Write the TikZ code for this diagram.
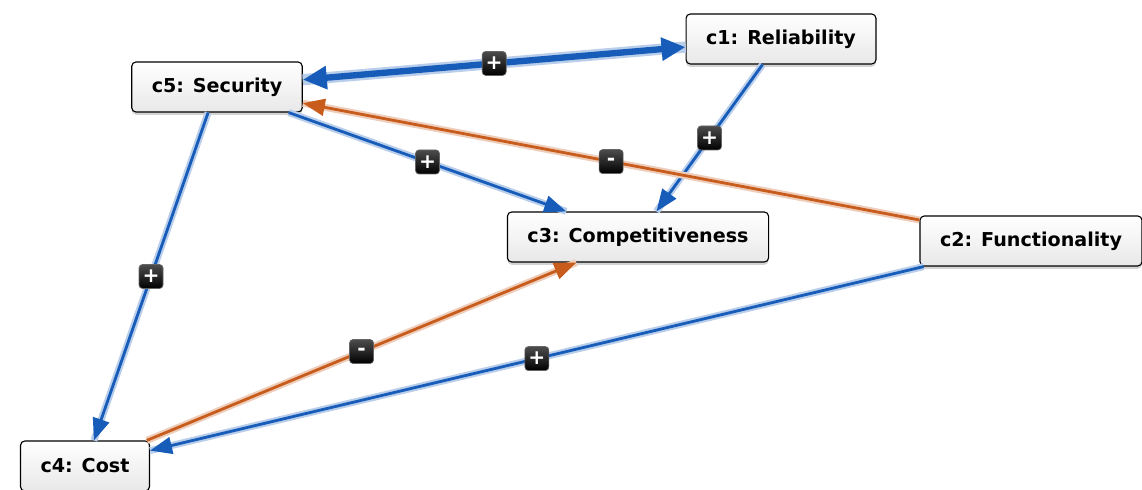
\documentclass[tikz,border=0pt]{standalone}
\usepackage{fontspec}
\setmainfont{DejaVu Sans}
\usetikzlibrary{arrows.meta}
\usetikzlibrary{shadows}

\definecolor{posblue}{RGB}{22,92,184}
\definecolor{negorange}{RGB}{200,92,28}

\tikzset{
    concept/.style={draw = black, line width = 0.8pt, rounded corners = 3pt,
        top color = white, bottom color = gray!18,
        drop shadow = {shadow xshift = 0pt, shadow yshift = -2pt, opacity = 0.35},
        font = \bfseries\fontsize{13.6}{16}\selectfont,
        inner xsep = 0.5cm, minimum height = 1.25cm},
    sign/.style={draw = black!60, line width = 0.5pt, top color = black!70,
        bottom color = black, text = white, rounded corners = 2.5pt,
        minimum size = 0.6cm, inner sep = 0pt, font = \bfseries\Large},
    tip/.style={-{Triangle[length = 0.55cm, width = 0.42cm]}},
    posedge/.style={draw = posblue, line width = 2pt, tip,
        preaction = {draw = posblue!30, line width = 5pt, -}},
    negedge/.style={draw = negorange, line width = 2pt, tip,
        preaction = {draw = negorange!30, line width = 5pt, -}}
}

\begin{document}
\begin{tikzpicture}[x = 0.025cm, y = -0.025cm]
        \useasboundingbox (0, 0) rectangle (1142, 490);

        \node[concept] (c1) at (781, 39) {c1: Reliability};
        \node[concept] (c5) at (217, 87) {c5: Security};
        \node[concept] (c3) at (638, 237) {c3: Competitiveness};
        \node[concept] (c2) at (1031, 241) {c2: Functionality};
        \node[concept] (c4) at (85, 466) {c4: Cost};

        \draw[posedge, line width = 4.5pt,
            {Triangle[length = 0.6cm, width = 0.55cm]}-{Triangle[length = 0.6cm, width = 0.55cm]},
            preaction = {draw = posblue!30, line width = 8pt, -}]
            (c5) -- (c1) node[sign, midway] (s51) {+};
        \draw[posedge] (c1) -- (c3) node[sign, midway] (s13) {+};
        \draw[posedge] (c5) -- (c3) node[sign, midway] (s53) {+};
        \draw[negedge] (c2) -- (c5) node[sign, midway] (s25) {-};
        \draw[posedge] (c5) -- (c4) node[sign, midway] (s54) {+};
        \draw[negedge] (c4) -- (c3) node[sign, midway] (s43) {-};
        \draw[posedge] (c2) -- (c4) node[sign, midway] (s24) {+};
    \end{tikzpicture}
\end{document}
